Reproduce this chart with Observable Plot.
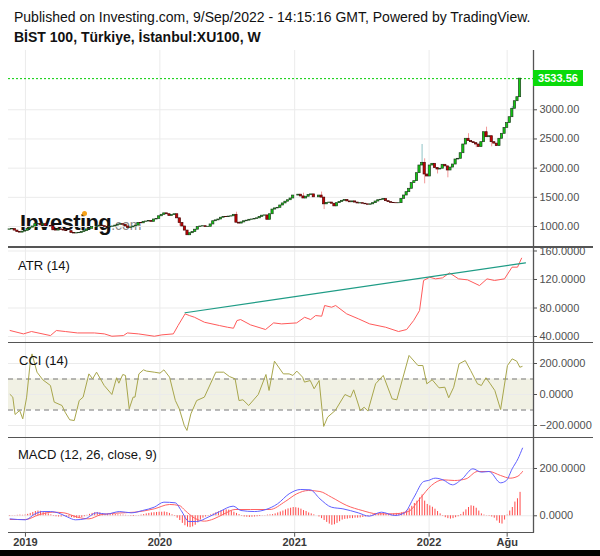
<!DOCTYPE html>
<html><head><meta charset="utf-8">
<script src="https://cdn.jsdelivr.net/npm/d3@7"></script>
<script src="https://cdn.jsdelivr.net/npm/@observablehq/plot@0.6"></script>
<style>
body{margin:0;background:#fff;font-family:Arial,"Liberation Sans",sans-serif;}
#root{position:relative;width:600px;height:556px;overflow:hidden;background:#fff}
.abs{position:absolute;white-space:nowrap}
.panel{position:absolute;left:0;z-index:2}
.sep{position:absolute;background:#555;height:1.4px;z-index:3}
.lbl{position:absolute;font-size:13px;line-height:13px;color:#111;z-index:4}
</style></head><body><div id="root"></div>
<script>
// ---------------- DATA ----------------
const weekStart = "2018-11-19", weekEnd = "2022-09-06";
const firstOpen = 945;
// weekly closes, 2018-11-19 .. 2022-09-05
const closes = [
 950,955,930,905,895,912,925,955,980,1000, 1040,1045,1020,1040,1010,1010,1000,935,930,950,
 940,930,920,920,890,880,885,890,905,920, 950,960,990,990,1000,1015,1005,990,985,995,
 1000,1015,1030,1040,1030,1000,975,985,1000,1015, 1060,1055,1080,1085,1095,1080,1120,1130,
 1175,1200,1225,1210,1180,1195,1210,1140,1060,1000, 930,850,885,905,945,990,1000,1005,990,995,
 1035,1090,1105,1120,1150,1165,1160,1170,1175,1200, 1065,1050,1070,1090,1100,1115,1120,1130,1140,1165,
 1185,1190,1115,1210,1290,1310,1320,1360,1395,1425, 1450,1480,1530,
 1530,1545,1515,1480,1510,1540,1550,1500,1500,1530, 1495,1380,1405,1410,1390,1345,1400,1420,1440,1455,
 1430,1415,1430,1410,1395,1400,1390,1380,1372,1380, 1400,1428,1450,1458,1470,1434,1417,1405,1400,1398,
 1400,1474,1531,1588,1646,1743,1777,1914,2045,2091, 1891,1857,
 2045,2074,2000,1977,1990,2057,2030,1960,2010,2062, 2148,2160,2256,2405,2503,2463,2445,2428,2405,2360,
 2445,2616,2530,2547,2445,2420,2377,2503,2588,2690, 2771,2873,3017,3147,3216,3533.56
];
// visible wicks
const wickDates = ["2020-02-24","2020-07-27","2021-01-25","2021-03-15","2021-03-22","2021-12-13","2021-12-20","2022-01-24","2022-02-21","2022-04-18","2022-05-09","2022-06-06","2022-06-20","2022-08-15"];
const wickHigh  = [null,1245,1571,1590,null,2405,2160,null,null,2590,null,2702,null,3057];
const wickLow   = [1005,null,null,null,1290,null,1731,1900,1834,null,2350,null,2365,null];

// ATR (14) — decimal years / values
const atrYear = [2018.886,2018.985,2019.045,2019.186,2019.230,2019.297,2019.387,2019.513,2019.587,2019.643,2019.729,2019.758,2019.840,2019.959,2020.015,2020.100,2020.135,2020.187,2020.219,2020.257,2020.331,2020.442,2020.502,2020.546,2020.572,2020.599,2020.673,2020.784,2020.844,2020.903,2021.015,2021.074,2021.119,2021.156,2021.201,2021.223,2021.275,2021.305,2021.387,2021.476,2021.558,2021.677,2021.773,2021.833,2021.885,2021.929,2021.959,2022.004,2022.048,2022.100,2022.152,2022.219,2022.286,2022.375,2022.431,2022.487,2022.561,2022.617,2022.658,2022.688];
const atrValue = [48.4,43.7,47,41.3,48.4,47,45,45,43.7,40.4,41.3,45,43.7,40.4,42.3,43.7,55.4,71.8,69.4,67,60,55.4,53,51.6,62.4,63.8,56.3,49.8,59.1,57.7,59.1,67,63.8,69.4,68.5,83.5,81.1,83.5,71.8,64.7,57.7,53,47,49.8,62.4,76.4,118.6,123.2,120.9,122.3,129.3,120.9,119.5,111.5,120.9,118.6,120.9,137.3,137.3,149.9];
const trendYear = [2020.187, 2022.717];
const trendValue = [73.3, 143.4];

// CCI (14)
const cciYear = [2018.886,2018.906,2018.923,2018.957,2018.980,2019.009,2019.037,2019.049,2019.086,2019.129,2019.186,2019.214,2019.272,2019.295,2019.329,2019.363,2019.400,2019.429,2019.472,2019.500,2019.529,2019.586,2019.643,2019.678,2019.695,2019.724,2019.744,2019.772,2019.801,2019.815,2019.844,2019.878,2019.901,2019.958,2020.001,2020.030,2020.072,2020.115,2020.144,2020.181,2020.201,2020.230,2020.273,2020.330,2020.415,2020.473,2020.516,2020.558,2020.587,2020.616,2020.659,2020.730,2020.787,2020.810,2020.850,2020.916,2020.959,2020.987,2021.016,2021.059,2021.073,2021.116,2021.145,2021.182,2021.216,2021.245,2021.302,2021.374,2021.416,2021.439,2021.488,2021.517,2021.545,2021.602,2021.659,2021.725,2021.760,2021.851,2021.917,2021.954,2021.983,2022.023,2022.074,2022.117,2022.146,2022.183,2022.223,2022.269,2022.309,2022.360,2022.389,2022.423,2022.452,2022.489,2022.532,2022.583,2022.618,2022.652,2022.675,2022.692];
const cciValue = [0,-17,-129,-103,-157,-17,219,262,144,95,58,-49,-71,-114,-163,-168,-39,-17,133,101,144,58,0,108,73,129,123,-92,-17,-17,133,159,151,144,138,159,112,-39,-92,-200,-232,-125,-39,-17,144,144,116,101,-39,-34,-71,0,129,26,215,133,133,123,151,112,80,90,37,90,-206,-146,-103,0,-17,30,-103,-82,-107,69,123,-28,-34,252,187,187,69,95,43,47,-21,47,198,219,155,69,58,108,73,26,-97,187,230,215,176,181];

// MACD (12, 26, close, 9)
const macdYear = [2018.886,2019.000,2019.072,2019.129,2019.186,2019.243,2019.315,2019.372,2019.443,2019.529,2019.601,2019.701,2019.786,2019.872,2019.958,2020.030,2020.115,2020.158,2020.215,2020.273,2020.358,2020.444,2020.544,2020.601,2020.701,2020.787,2020.873,2020.959,2021.045,2021.116,2021.188,2021.273,2021.359,2021.473,2021.554,2021.645,2021.745,2021.817,2021.888,2021.960,2021.994,2022.045,2022.103,2022.174,2022.246,2022.326,2022.389,2022.446,2022.532,2022.575,2022.618,2022.661,2022.695];
const macdValue = [-12.9,-17,8.3,18,18,12.5,-5.8,-17,-12.9,12.5,7,18,12.5,22.4,36.5,57.6,54.8,22.4,-24.1,-24.1,-5.8,18,40.7,22.4,18,26.6,50.6,93,111.2,109.8,71.7,36.5,29.4,12.5,-1.6,15.3,1.3,12.5,78.8,145,149.2,159.1,152,130.9,156.3,198.6,184.5,187.3,139.4,149.2,198.6,240.8,286];
const signalYear = [2018.886,2019.000,2019.100,2019.200,2019.286,2019.386,2019.472,2019.558,2019.672,2019.815,2019.958,2020.072,2020.144,2020.187,2020.258,2020.330,2020.401,2020.473,2020.558,2020.673,2020.816,2020.930,2021.016,2021.102,2021.188,2021.273,2021.388,2021.502,2021.616,2021.731,2021.845,2021.931,2022.017,2022.103,2022.189,2022.275,2022.360,2022.446,2022.532,2022.603,2022.661,2022.695];
const signalValue = [-15.7,-15.7,4.1,15.3,12.5,-5.8,-12.9,4.1,11.1,15.3,29.4,47.8,43.5,22.4,-10,-22.7,-12.9,7,26.6,26.6,26.6,60.4,93,107,102.7,78.8,43.5,22.4,8.3,8.3,18,71.7,128.1,152,149.2,156.3,187.3,187.3,170.4,159.1,167.6,187.3];
// weekly histogram
const histValue = [
 -2,-1,1,2,3,2,3, 6,10,14,18,20,19,16,12,8,4, -2,-4,-5,-5,-3,-4, -6,-8,-10,-11,-9,-7,-4,
 2,6,10,13,14,12,9,6, 5,6,6,5,4,3,3,2,1, -2,-3,-1,1,3,5, 8,10,12,13,14,15,15,16,14,10,
 4,-2,-10,-20, -32,-42,-48,-50,-47,-40,-30,-18, -10,-5,-2, 4,8,13,17,21,24,25,24,20,15,10,5,
 -2,-5,-6,-7,-6,-5,-4,-3,-1, 1,3,4,5,8, 12,16,20,25,29,32,35,34,32,28,22, 18,12,8,4,0,-5,-12,
 -20,-28,-35,-40,-38,-32,-25,-18,-15, -14,-12,-12,-10,-10,-9,-7,-5,-3,
 2,5,7,8,9,8,6,5,6,8,10,9,12, 15,22,30,40,52,62,75,88, 62,48,42,36,28,18,8,
 -2,-8,-12,-14,-12,-8,-4, 5,15,25,35,42,40,32,20, 8,3,1,-2,-5, -10,-22,-32,-35,-18, 3,20,35,58,72,99
];

// axis ticks
const priceTicks = [1000,1500,2000,2500,3000];
const atrTicks = [40,80,120,160];
const cciTicks = [-200,0,200];
const cciBand = [-100,100];
const macdTicks = [0,200];
const xTickDates = ["2019-01-01","2020-01-01","2021-01-01","2022-01-01","2022-08-01"];
const xTickLabels = ["2019","2020","2021","2022","Ağu"];

// ---------------- BUILD ----------------
const root = document.getElementById("root");
const fromYear = y => { const Y = Math.floor(y), s = Date.UTC(Y,0,1), e = Date.UTC(Y+1,0,1); return new Date(s + (y - Y) * (e - s)); };
const weeks = d3.utcMonday.range(new Date(weekStart), new Date(weekEnd));
const rows = closes.map((c, i) => ({date: weeks[i], open: i ? closes[i-1] : firstOpen, close: c}));
const byDate = new Map(rows.map(r => [+r.date, r]));
const wicks = wickDates.map((d, k) => {
  const r = byDate.get(+new Date(d));
  return {date: r.date, lo: wickLow[k] ?? Math.min(r.open, r.close), hi: wickHigh[k] ?? Math.max(r.open, r.close), up: r.close >= r.open};
});
const atr = atrYear.map((y, i) => ({date: fromYear(y), v: atrValue[i]}));
const trend = trendYear.map((y, i) => ({date: fromYear(y), v: trendValue[i]}));
const cci = cciYear.map((y, i) => ({date: fromYear(y), v: cciValue[i]}));
const macd = macdYear.map((y, i) => ({date: fromYear(y), v: macdValue[i]}));
const signal = signalYear.map((y, i) => ({date: fromYear(y), v: signalValue[i]}));
const hist = histValue.map((v, i) => ({date: weeks[i], v}));
const gridDates = xTickDates.map(d => new Date(d));
const labelMap = new Map(gridDates.map((d, i) => [+d, xTickLabels[i]]));

const XD = [new Date("2018-11-16T00:00Z"), new Date("2022-10-11T12:00Z")];
const GRID = "#ebebeb";
const base = (height, ydomain, marks, mb = 0, overflow = "hidden") => Plot.plot({
  width: 600, height, marginLeft: 8, marginRight: 67, marginTop: 0, marginBottom: mb,
  x: {type: "utc", domain: XD, axis: null},
  y: {domain: ydomain, axis: null},
  style: {fontFamily: "Arial, 'Liberation Sans', sans-serif", fontSize: "11px", color: "#505050", background: "transparent", overflow},
  marks
});
const grids = (ticks) => [
  Plot.gridY(ticks, {stroke: GRID, strokeOpacity: 1}),
  Plot.gridX(gridDates, {stroke: GRID, strokeOpacity: 1}),
];
const axisMarks = (ticks, fmt) => [
  Plot.ruleX([XD[1]], {stroke: "#555", strokeWidth: 1.3}),
  Plot.axisY(ticks, {anchor: "right", label: null, tickFormat: d3.format(fmt), tickSize: 3, tickPadding: 3, fill: "#505050"})
];
function place(chart, top, z = 2) {
  const d = document.createElement("div"); d.className = "panel"; d.style.top = top + "px"; d.style.zIndex = z;
  d.appendChild(chart); root.appendChild(d); return chart;
}
function addDiv(cls, css, html) {
  const d = document.createElement("div"); d.className = cls; d.style.cssText = css; if (html != null) d.innerHTML = html; root.appendChild(d); return d;
}

// header
addDiv("abs", "left:14px;top:10px;font-size:14px;line-height:14px;color:#111", "Published on Investing.com, 9/Sep/2022 - 14:15:16 GMT, Powered by TradingView.");
addDiv("abs", "left:14px;top:30px;font-size:14px;line-height:14px;font-weight:bold;color:#111", "BİST 100, Türkiye, İstanbul:XU100, W");

// watermark (under the chart)
addDiv("abs", "left:20px;top:212px;z-index:1;line-height:22px", '<span style="font-size:22px;font-weight:bold;color:#111;letter-spacing:-0.6px">Investing</span><span style="font-size:14px;color:#8a8a8a">.com</span>');
addDiv("abs", "left:82px;top:211px;width:5px;height:5px;border-radius:50%;background:#f6a21a;z-index:1");

const half = 3 * 864e5;
const up = d => d.close >= d.open;
const LAST = closes[closes.length - 1];

// price panel
const P1TOP = 50;
const c1 = place(base(197, [640, 4016], [
  ...grids(priceTicks),
  Plot.ruleY([LAST], {stroke: "#00cc00", strokeDasharray: "2,2", strokeWidth: 1}),
  Plot.ruleX(wicks, {x: "date", y1: "lo", y2: "hi", stroke: d => d.up ? "#8fc3c6" : "#f29a9a", strokeWidth: 1}),
  Plot.rect(rows, {x1: d => new Date(+d.date - half), x2: d => new Date(+d.date + half), y1: "open", y2: "close",
    fill: d => up(d) ? "#10cc10" : "#c80000", stroke: d => up(d) ? "#1f3f1f" : "#4a0606", strokeWidth: 0.7}),
  ...axisMarks(priceTicks, ".2f")
]), P1TOP);
const ly = c1.scale("y").apply(LAST);
addDiv("abs", `left:533px;top:${P1TOP + ly - 8}px;width:50px;height:16px;background:#0ada0a;color:#fff;font-weight:bold;font-size:11px;line-height:16px;text-align:center;z-index:5`, d3.format(".2f")(LAST));

// ATR panel (top label allowed to run under the separator line)
place(base(95, [31.6, 164.9], [
  ...grids(atrTicks),
  Plot.line(atr, {x: "date", y: "v", stroke: "#ff5a5a", strokeWidth: 1}),
  Plot.line(trend, {x: "date", y: "v", stroke: "#1f9c86", strokeWidth: 1.2}),
  ...axisMarks(atrTicks, ".4f")
], 0, "visible"), 247, 2);

// CCI panel
place(base(95, [-277.4, 335.5], [
  Plot.rect([cciBand], {x1: () => XD[0], x2: () => XD[1], y1: d => d[0], y2: d => d[1], fill: "#f1f1e4"}),
  ...grids(cciTicks),
  Plot.ruleY(cciBand, {stroke: "#777", strokeDasharray: "5,4", strokeWidth: 1}),
  Plot.line(cci, {x: "date", y: "v", stroke: "#a8a64c", strokeWidth: 1}),
  ...axisMarks(cciTicks, ".4f")
]), 342);

// MACD panel + x axis
place(base(113, [-73.6, 331], [
  ...grids(macdTicks),
  Plot.ruleX(hist, {x: "date", y1: 0, y2: "v", stroke: "#ff4a4a", strokeWidth: 1}),
  Plot.line(signal, {x: "date", y: "v", stroke: "#ff6262", strokeWidth: 1, curve: "monotone-x"}),
  Plot.line(macd, {x: "date", y: "v", stroke: "#6060ff", strokeWidth: 1, curve: "monotone-x"}),
  ...axisMarks(macdTicks, ".4f"),
  Plot.axisX(gridDates, {label: null, tickFormat: d => labelMap.get(+d), tickSize: 4, tickPadding: 1, fontWeight: "bold", fill: "#3a3a3a", stroke: "#555"})
], 17.3), 437);

// separators & frame
addDiv("sep", "left:8px;top:246.3px;width:585px");
addDiv("sep", "left:8px;top:341.6px;width:585px");
addDiv("sep", "left:8px;top:436.6px;width:585px");
addDiv("sep", "left:8px;top:532px;width:526px");
addDiv("abs", "left:0;top:550px;width:600px;height:6px;background:#000;z-index:6");

// panel labels
addDiv("lbl", "left:18px;top:259px", "ATR (14)");
addDiv("lbl", "left:19px;top:354px", "CCI (14)");
addDiv("lbl", "left:18px;top:448px", "MACD (12, 26, close, 9)");
</script></body></html>
